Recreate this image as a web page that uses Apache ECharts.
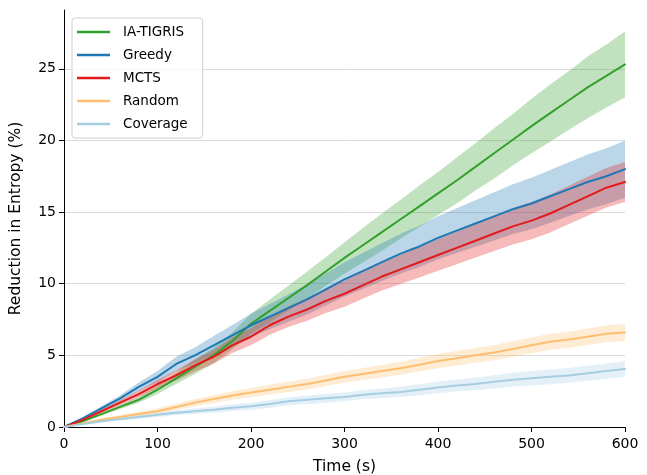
<!DOCTYPE html>
<html>
<head>
<meta charset="utf-8">
<script src="https://cdn.jsdelivr.net/npm/echarts@6/dist/echarts.min.js"></script>
<style>html,body{margin:0;padding:0;background:#fff}#c{width:647px;height:475px}</style>
</head>
<body>
<div id="c"></div>
<script>
const timeS = [0,20,40,60,80,100,120,140,160,180,200,220,240,260,280,300,320,340,360,380,400,420,440,460,480,500,520,540,560,580,600];

const tigrisMean = [0,0.4,0.9,1.4,1.9,2.6,3.4,4.2,5.0,6.0,7.2,8.1,9.0,9.9,10.85,11.8,12.7,13.6,14.5,15.4,16.3,17.2,18.15,19.1,20.05,21.0,21.9,22.8,23.7,24.5,25.3];
const tigrisStd  = [0,0.05,0.1,0.15,0.2,0.3,0.4,0.5,0.55,0.6,0.7,0.8,0.85,0.95,1.0,1.1,1.2,1.3,1.35,1.45,1.5,1.6,1.65,1.75,1.8,1.9,2.0,2.05,2.15,2.2,2.3];

const greedyMean = [0,0.6,1.3,2.0,2.8,3.5,4.4,5.0,5.7,6.4,7.1,7.7,8.3,8.9,9.6,10.3,10.9,11.5,12.1,12.6,13.2,13.7,14.2,14.7,15.2,15.6,16.1,16.6,17.1,17.5,18.0];
const greedyStd  = [0,0.08,0.15,0.22,0.3,0.4,0.5,0.55,0.65,0.72,0.8,0.88,0.95,1.05,1.12,1.2,1.26,1.32,1.38,1.44,1.5,1.56,1.62,1.68,1.74,1.8,1.84,1.88,1.92,1.96,2.0];

const mctsMean = [0,0.5,1.1,1.7,2.3,3.0,3.6,4.3,4.9,5.7,6.3,7.1,7.7,8.2,8.8,9.3,9.9,10.5,11.0,11.5,12.0,12.5,13.0,13.5,14.0,14.4,14.9,15.5,16.1,16.7,17.1];
const mctsStd  = [0,0.06,0.12,0.18,0.24,0.3,0.36,0.42,0.48,0.54,0.6,0.66,0.72,0.78,0.84,0.9,0.94,0.98,1.02,1.06,1.1,1.14,1.18,1.22,1.26,1.3,1.32,1.34,1.36,1.38,1.4];

const randomMean = [0,0.25,0.5,0.7,0.9,1.1,1.4,1.7,1.95,2.2,2.4,2.6,2.8,3.0,3.25,3.5,3.7,3.9,4.1,4.35,4.6,4.8,5.0,5.2,5.45,5.7,5.95,6.1,6.3,6.5,6.6];
const randomStd  = [0,0.05,0.1,0.14,0.17,0.2,0.22,0.25,0.27,0.3,0.32,0.34,0.36,0.38,0.39,0.4,0.42,0.44,0.46,0.48,0.5,0.51,0.52,0.53,0.54,0.55,0.56,0.57,0.58,0.59,0.6];

const coverageMean = [0,0.2,0.4,0.55,0.7,0.85,1.0,1.1,1.2,1.35,1.45,1.6,1.8,1.9,2.0,2.1,2.25,2.35,2.45,2.6,2.75,2.9,3.0,3.15,3.3,3.4,3.5,3.6,3.75,3.9,4.05];
const coverageStd  = [0,0.04,0.07,0.1,0.12,0.15,0.17,0.19,0.21,0.23,0.25,0.27,0.28,0.29,0.3,0.3,0.32,0.34,0.36,0.38,0.4,0.42,0.44,0.46,0.48,0.5,0.51,0.52,0.53,0.54,0.55];

const seriesNames = ['IA-TIGRIS','Greedy','MCTS','Random','Coverage'];
const seriesColors = ['#33a02c','#1f78b4','#e31a1c','#fdbf6f','#a6cee3'];
const means = [tigrisMean, greedyMean, mctsMean, randomMean, coverageMean];
const stds = [tigrisStd, greedyStd, mctsStd, randomStd, coverageStd];
const xTicks = [0,100,200,300,400,500,600];
const yTicks = [0,5,10,15,20,25];

const FONT = 'DejaVu Sans';

function bandSeries(idx) {
  const m = means[idx], s = stds[idx];
  return {
    type: 'custom',
    name: seriesNames[idx] + ' band',
    silent: true,
    clip: true,
    data: [[0, 0]],
    renderItem: function (params, api) {
      const pts = [];
      for (let i = 0; i < timeS.length; i++) pts.push(api.coord([timeS[i], m[i] + s[i]]));
      for (let i = timeS.length - 1; i >= 0; i--) pts.push(api.coord([timeS[i], Math.max(0, m[i] - s[i])]));
      return { type: 'polygon', shape: { points: pts }, style: { fill: seriesColors[idx], opacity: 0.3 } };
    }
  };
}
function lineSeries(idx) {
  return {
    type: 'line',
    name: seriesNames[idx],
    data: timeS.map((t, i) => [t, means[idx][i]]),
    showSymbol: false,
    symbol: 'none',
    smooth: false,
    color: seriesColors[idx],
    lineStyle: { width: 2, color: seriesColors[idx], join: 'round', cap: 'round' }
  };
}
const series = [];
for (let i = 0; i < 5; i++) { series.push(bandSeries(i)); series.push(lineSeries(i)); }

const chart = echarts.init(document.getElementById('c'), null, { renderer: 'canvas' });
chart.setOption({
  animation: false,
  backgroundColor: '#fff',
  textStyle: { fontFamily: FONT },
  grid: { left: 64, right: 22, top: 10, bottom: 48, containLabel: false, outerBoundsMode: 'none' },
  legend: {
    data: seriesNames,
    orient: 'vertical',
    left: 72, top: 18,
    padding: [6, 15, 6, 5],
    backgroundColor: 'rgba(255,255,255,0.8)',
    borderColor: '#d0d0d0', borderWidth: 1, borderRadius: 3,
    icon: 'rect',
    itemWidth: 33, itemHeight: 2.5, itemGap: 7,
    textStyle: { fontFamily: FONT, fontSize: 13.5, color: '#000', lineHeight: 16, padding: [0, 0, 0, 8] }
  },
  xAxis: {
    type: 'value', min: 0, max: 600, interval: 100,
    name: 'Time (s)', nameLocation: 'middle', nameGap: 32,
    nameTextStyle: { fontFamily: FONT, fontSize: 15.5, color: '#000' },
    axisLine: { show: true, lineStyle: { color: '#000', width: 1 } },
    axisTick: { show: true, length: 5, lineStyle: { color: '#000' } },
    axisLabel: { fontFamily: FONT, fontSize: 14, color: '#000', margin: 10 },
    splitLine: { show: false }
  },
  yAxis: {
    type: 'value', min: 0, max: 29.1, interval: 5,
    name: 'Reduction in Entropy (%)', nameLocation: 'middle', nameGap: 40,
    nameTextStyle: { fontFamily: FONT, fontSize: 15.5, color: '#000' },
    axisLine: { show: true, lineStyle: { color: '#000', width: 1 } },
    axisTick: { show: true, length: 5, lineStyle: { color: '#000' }, customValues: yTicks },
    axisLabel: { fontFamily: FONT, fontSize: 14, color: '#000', margin: 8, customValues: yTicks },
    splitLine: { show: true, lineStyle: { color: '#dcdcdc', width: 1 } }
  },
  series: series
});
</script>
</body>
</html>
